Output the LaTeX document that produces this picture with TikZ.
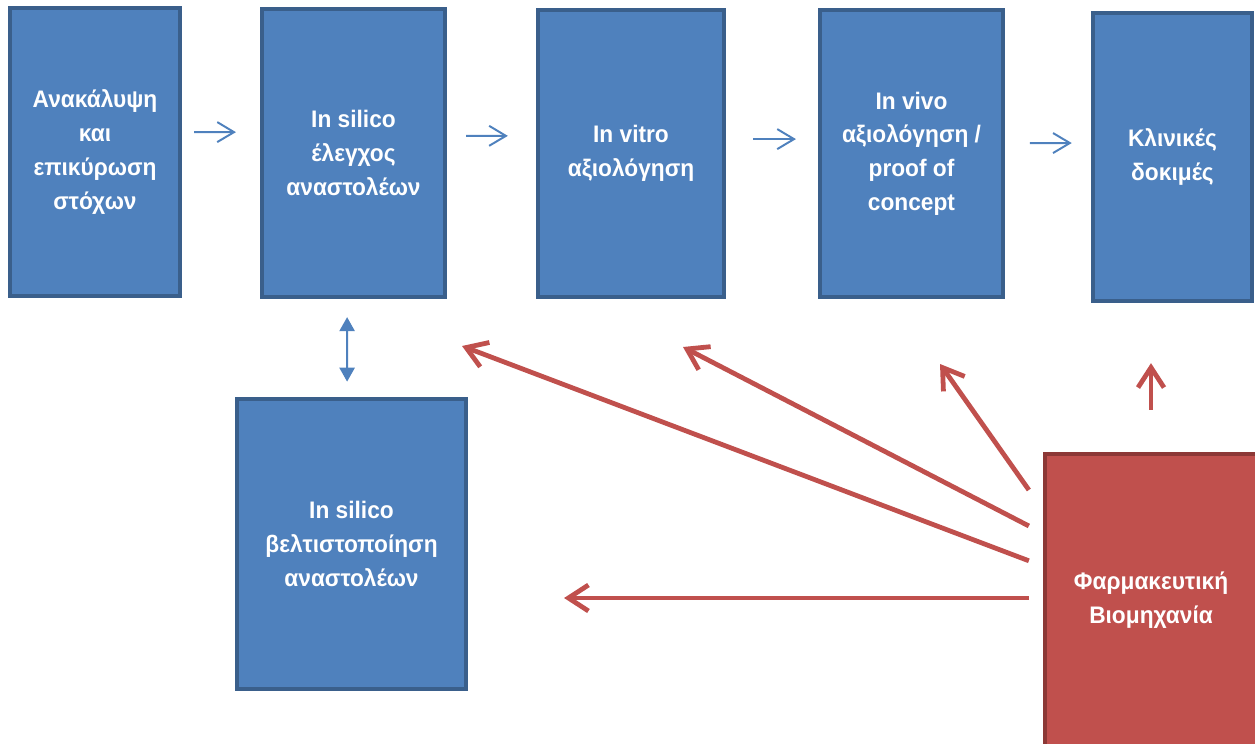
\documentclass[tikz,border=0pt]{standalone}
\usepackage{fontspec}
\setmainfont{Liberation Sans}
\newfontfamily\stagefont[FakeStretch=0.95]{Liberation Sans}
\usepackage{tikz}
\usetikzlibrary{arrows.meta}
\definecolor{stepblue}{HTML}{4F81BD}
\definecolor{stepline}{HTML}{3A5F8B}
\definecolor{industry}{HTML}{C0504D}
\definecolor{industryline}{HTML}{8C3836}
\tikzset{
    stage/.style={draw=stepline, line width=3pt, fill=stepblue, text=white,
        font=\stagefont\bfseries\fontsize{17}{24}\selectfont, align=center, inner sep=0pt},
    flow/.style={draw=stepblue, line width=1.4pt, -{Straight Barb[length=0.42cm, width=0.5cm]}},
    swap/.style={draw=stepblue, line width=1.4pt, {Triangle[length=0.35cm, width=0.38cm]}-{Triangle[length=0.35cm, width=0.38cm]}},
    push/.style={draw=industry, line width=3.4pt, -{Straight Barb[length=0.5cm, width=0.65cm]}},
}

\begin{document}
\begin{tikzpicture}[x=0.025cm, y=-0.025cm]
    \useasboundingbox (0, 0) rectangle (1255, 743);

    \node[stage, minimum width=4.25cm, minimum height=7.2cm] (target) at (95, 152){Ανακάλυψη\\και\\επικύρωση\\στόχων};
    \node[stage, minimum width=4.57cm, minimum height=7.2cm] (screen) at (353.5, 153){In silico\\έλεγχος\\αναστολέων};
    \node[stage, minimum width=4.65cm, minimum height=7.17cm] (vitro) at (631, 153.5){In vitro\\αξιολόγηση};
    \node[stage, minimum width=4.57cm, minimum height=7.17cm] (vivo) at (911.5, 153.5){In vivo\\αξιολόγηση /\\proof of\\concept};
    \node[stage, minimum width=3.97cm, minimum height=7.2cm] (clinical) at (1172.5, 157){Κλινικές\\δοκιμές};
    \node[stage, minimum width=5.72cm, minimum height=7.25cm] (optim) at (351.5, 544){In silico\\βελτιστοποίηση\\αναστολέων};
    \node[stage, draw=industryline, fill=industry, minimum width=5.3cm, minimum height=7.3cm] (pharma) at (1151, 600){Φαρμακευτική\\Βιομηχανία};

    % pipeline
    \draw[flow, shorten <=0.3cm, shorten >=0.6cm] ([yshift=0.5cm]target.east) -- ([yshift=0.52cm]screen.west);
    \draw[flow, shorten <=0.48cm, shorten >=0.7cm] ([yshift=0.43cm]screen.east) -- ([yshift=0.44cm]vitro.west);
    \draw[flow, shorten <=0.68cm, shorten >=0.55cm] ([yshift=0.36cm]vitro.east) -- ([yshift=0.36cm]vivo.west);
    \draw[flow, shorten <=0.62cm, shorten >=0.48cm] ([yshift=0.26cm]vivo.east) -- ([yshift=0.35cm]clinical.west);
    \draw[swap, shorten <=0.45cm, shorten >=0.38cm] ([xshift=-0.16cm]screen.south) -- ([xshift=-0.11cm]optim.north);

    % industry feedback
    \coordinate (vivoTip) at (940, 364);
    \coordinate (vitroTip) at (683, 347);
    \coordinate (screenTip) at (462, 346);
    \draw[push] ([shift={(-0.35cm, 2.75cm)}]pharma.west) -- (vivoTip);
    \draw[push] ([shift={(-0.35cm, 1.85cm)}]pharma.west) -- (vitroTip);
    \draw[push] ([shift={(-0.35cm, 0.98cm)}]pharma.west) -- (screenTip);
    \draw[push, shorten <=0.35cm, shorten >=2.4cm] ([yshift=0.05cm]pharma.west) -- ([yshift=0.05cm]optim.east |- pharma.west);
    \draw[push, shorten <=1.05cm, shorten >=1.5cm] (pharma.north) -- (pharma.north |- clinical.south);
\end{tikzpicture}
\end{document}
